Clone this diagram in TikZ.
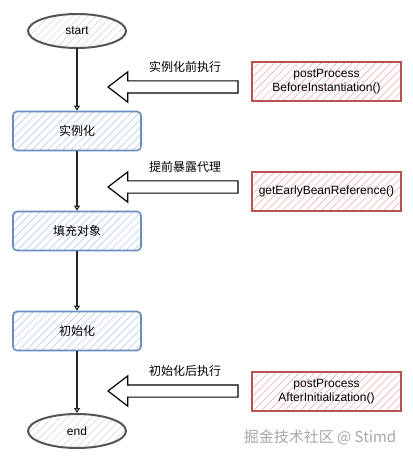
\documentclass[tikz,border=0pt]{standalone}
\usepackage{fontspec}
\setmainfont{Liberation Sans}
\newfontfamily\cjk{Noto Sans CJK SC}
\usepackage{xcolor}
\usetikzlibrary{shapes.geometric,shapes.arrows,patterns.meta,arrows.meta}

\definecolor{stageblue}{HTML}{6C8EBF}
\definecolor{hatchblue}{HTML}{A9C4EB}
\definecolor{hookred}{HTML}{B85450}
\definecolor{hatchred}{HTML}{EFA3A0}
\definecolor{ovalgray}{HTML}{555555}

\tikzset{
  hatch/.style={pattern={Lines[angle=45,distance=5.5pt,line width=0.5pt]}, pattern color=#1},
  every oval/.style={ellipse, draw=ovalgray, line width=2pt, hatch=black!18,
    minimum width=98pt, minimum height=34pt},
  every stage/.style={draw=stageblue, line width=1.6pt, rounded corners=4pt, hatch=hatchblue,
    minimum width=128pt, minimum height=39pt},
  every hook/.style={draw=hookred, line width=1.5pt, hatch=hatchred,
    minimum width=149pt, minimum height=39pt, align=center},
  every hollow/.style={single arrow, draw=black, line width=1.2pt, fill=white,
    shape border rotate=180, minimum height=130pt, inner xsep=0pt, inner ysep=5.5pt,
    single arrow head extend=9pt, single arrow tip angle=75},
  flow/.style={-{Triangle[open,length=5pt,width=6pt]}, line width=1.1pt, black!85}
}

\begin{document}
\begin{tikzpicture}[x=1pt, y=-1pt, font=\fontsize{12pt}{14pt}\selectfont]
\useasboundingbox (0,0) rectangle (412,462);

\node [every oval/.try] (start) at (77,31) {start};

\foreach \l [count=\y] in {实例化,填充对象,初始化}
  \node [every stage/.try] (stage-\y) at (77,31+100*\y) {\cjk \l};

\node [every oval/.try] (end) at (77,431) {end};

\draw [flow] (start) -- (stage-1);
\foreach \i/\j in {1/2,2/3}
  \draw [flow] (stage-\i) -- (stage-\j);
\draw [flow] (stage-3) -- (end);

% 扩展点
\foreach \t/\b/\a/\l [count=\i] in {81.5/{postProcess\\BeforeInstantiation()}/87/实例化前执行,
    191.5/{getEarlyBeanReference()}/187/提前暴露代理,
    391.5/{postProcess\\AfterInitialization()}/391/初始化后执行}
{
  \node [every hook/.try] (hook-\i) at (326.5,\t) {\b};
  \node [every hollow/.try] (push-\i) at (177,\a) {};
  \node (note-\i) at (185,\a-20) {\cjk \l};
}

\node [text=black!35, font=\fontsize{15pt}{17pt}\selectfont] (mark) at (320,437) {\cjk 掘金技术社区 @ Stimd};

\end{tikzpicture}
\end{document}
